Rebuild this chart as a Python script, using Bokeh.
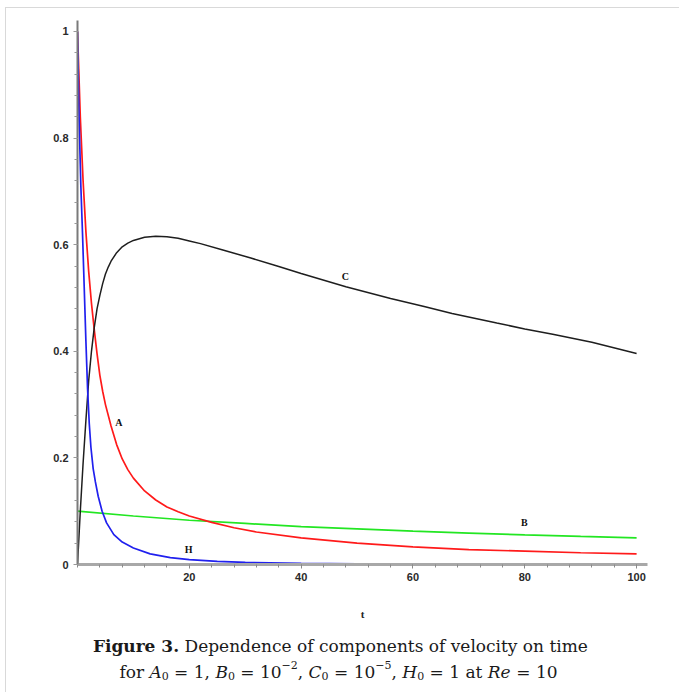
from bokeh.plotting import figure
from bokeh.layouts import column, row
from bokeh.models import Range1d, FixedTicker, Label, LinearAxis, Spacer
from bokeh.embed import file_html
from bokeh.resources import INLINE

# ---------------- data ----------------
t_A = [0, 0.5, 1, 1.5, 2, 2.5, 3, 3.5, 4, 4.5, 5, 6, 7, 8, 9, 10, 12, 14, 16, 18,
       20, 24, 28, 32, 40, 50, 60, 70, 80, 90, 100]
A = [1.0, 0.84, 0.72, 0.625, 0.55, 0.49, 0.44, 0.395, 0.355, 0.325, 0.3, 0.26,
     0.225, 0.198, 0.178, 0.162, 0.138, 0.121, 0.108, 0.099, 0.091, 0.079, 0.069,
     0.061, 0.05, 0.04, 0.033, 0.028, 0.025, 0.022, 0.020]

t_B = [0, 10, 20, 30, 40, 50, 60, 70, 80, 90, 100]
B = [0.1, 0.091, 0.083, 0.077, 0.071, 0.067, 0.0625, 0.059, 0.0556, 0.0526, 0.05]

t_C = [0, 0.5, 1, 1.5, 2, 2.5, 3, 3.5, 4, 4.5, 5, 5.5, 6, 7, 8, 9, 10, 12, 14, 16,
       18, 20, 22, 26, 31, 36, 40, 48, 56, 62, 67, 75, 80, 85, 92, 100]
C = [0, 0.1, 0.19, 0.27, 0.345, 0.40, 0.445, 0.48, 0.505, 0.527, 0.545, 0.558,
     0.569, 0.585, 0.596, 0.603, 0.608, 0.614, 0.616, 0.615, 0.612, 0.607, 0.602,
     0.59, 0.575, 0.559, 0.546, 0.521, 0.499, 0.484, 0.471, 0.453, 0.442, 0.432,
     0.417, 0.396]

t_H = [0, 0.3, 0.6, 0.9, 1.2, 1.5, 1.8, 2.1, 2.4, 2.8, 3.2, 3.7, 4.4, 5.2, 6.5, 8,
       10, 13, 16.6, 20, 25, 30, 40, 50, 60, 100]
H = [1.0, 0.83, 0.71, 0.62, 0.52, 0.42, 0.33, 0.265, 0.22, 0.18, 0.155, 0.128, 0.1,
     0.078, 0.056, 0.042, 0.031, 0.02, 0.013, 0.009, 0.006, 0.004, 0.002, 0.001,
     0.0005, 0.0]

curve_names = ["A", "B", "C", "H"]
curve_label_t = [7.4, 79.9, 47.9, 19.9]
curve_label_v = [0.267, 0.078, 0.540, 0.029]

x_ticks = [20, 40, 60, 80, 100]
x_labels = ["20", "40", "60", "80", "100"]
y_ticks = [0, 0.2, 0.4, 0.6, 0.8, 1.0]
y_labels = ["0", "0.2", "0.4", "0.6", "0.8", "1"]

x_title = "t"
caption_bold = "Figure 3."
caption_line1 = " Dependence of components of velocity on time"
# (text, style) pieces of caption line 2
caption_line2 = [("for ", "r"), ("A", "i"), ("0", "sub"), (" = 1, ", "r"),
                 ("B", "i"), ("0", "sub"), (" = 10", "r"), ("\u22122", "sup"),
                 (", ", "r"), ("C", "i"), ("0", "sub"), (" = 10", "r"),
                 ("\u22125", "sup"), (", ", "r"), ("H", "i"), ("0", "sub"),
                 (" = 1 at ", "r"), ("Re", "i"), (" = 10", "r")]

# ---------------- chart ----------------
CW = 673
H1 = 620
BL, BR = 71, 32
p = figure(width=CW, height=H1, x_range=Range1d(0, 101.95),
           y_range=Range1d(0, 1.0206), output_backend="svg",
           toolbar_location=None, x_axis_type=None, y_axis_type=None,
           min_border_left=BL, min_border_right=BR, min_border_top=12,
           min_border_bottom=64)
p.outline_line_color = None
p.background_fill_color = "white"
p.border_fill_color = "white"

tick_font = "Liberation Sans"

xaxis = LinearAxis()
xaxis.ticker = FixedTicker(ticks=x_ticks, minor_ticks=list(range(0, 101, 4)))
xaxis.major_label_overrides = dict(zip(x_ticks, x_labels))
xaxis.axis_line_color = "#a8a8a8"
xaxis.axis_line_width = 3
xaxis.major_tick_line_color = "#8a8a8a"
xaxis.minor_tick_line_color = "#8a8a8a"
xaxis.major_tick_in = 0
xaxis.major_tick_out = 4
xaxis.minor_tick_in = 0
xaxis.minor_tick_out = 3
xaxis.major_label_text_font = tick_font
xaxis.major_label_text_font_style = "bold"
xaxis.major_label_text_font_size = "11px"
xaxis.major_label_text_color = "#2a2a2a"
xaxis.major_label_standoff = 4
xaxis.axis_label = x_title
xaxis.axis_label_text_font = "Liberation Serif"
xaxis.axis_label_text_font_style = "bold"
xaxis.axis_label_text_font_size = "11px"
xaxis.axis_label_text_color = "#222222"
xaxis.axis_label_standoff = 24
p.add_layout(xaxis, "below")

yaxis = LinearAxis()
yaxis.ticker = FixedTicker(ticks=y_ticks, minor_ticks=[k * 0.04 for k in range(26)])
yaxis.major_label_overrides = dict(zip(y_ticks, y_labels))
yaxis.axis_line_color = "#7a7a7a"
yaxis.axis_line_width = 2
yaxis.major_tick_line_color = "#999999"
yaxis.minor_tick_line_color = "#999999"
yaxis.major_tick_in = 0
yaxis.major_tick_out = 4
yaxis.minor_tick_in = 0
yaxis.minor_tick_out = 3
yaxis.major_label_text_font = tick_font
yaxis.major_label_text_font_style = "bold"
yaxis.major_label_text_font_size = "11px"
yaxis.major_label_text_color = "#2a2a2a"
yaxis.major_label_standoff = 5
p.add_layout(yaxis, "left")

p.line(t_B, B, line_color="#22e622", line_width=1.7)
p.line(t_A, A, line_color="#ff1a1a", line_width=1.7)
p.line(t_C, C, line_color="#1e1e1e", line_width=1.5)
p.line(t_H, H, line_color="#2020ee", line_width=1.7)

for name, tx, vy in zip(curve_names, curve_label_t, curve_label_v):
    p.add_layout(Label(x=tx, y=vy, text=name, text_font="Liberation Serif",
                       text_font_style="bold", text_font_size="10px",
                       text_color="#111111", text_align="center",
                       text_baseline="middle"))

# ---------------- caption (separate strip below the chart) ----------------
H2 = 64
# same side borders as the chart (the column aligns the frames); x data = strip pixels
cap = figure(width=CW, height=H2, x_range=Range1d(BL, CW - BR), y_range=Range1d(0, H2),
             output_backend="svg", toolbar_location=None, x_axis_type=None,
             y_axis_type=None, min_border_left=BL, min_border_right=BR,
             min_border_top=0, min_border_bottom=0)
cap.outline_line_color = None
cap.background_fill_color = "white"
cap.border_fill_color = "white"

SERIF = "DejaVu Serif"
REG = {" ": .318, ",": .318, ".": .318, "=": .838, "\u2212": .838, "a": .596,
       "c": .563, "d": .642, "e": .592, "f": .370, "i": .320, "l": .320, "m": .948,
       "n": .644, "o": .602, "p": .642, "r": .478, "s": .513, "t": .402, "v": .579,
       "y": .579, "D": .831}
for dgt in "0123456789":
    REG[dgt] = .636
ITA = {"A": .722, "B": .735, "C": .765, "H": .872, "R": .770, "e": .592}
BOLD = {"F": .774, "i": .42, "g": .716, "u": .763, "r": .593, "e": .678, " ": .348,
        "3": .696, ".": .380}


def width(s, table, size):
    return sum(table.get(ch, 0.6) for ch in s) * size


FS = 17
SUBFS = 11
cap_cx = 332      # caption centre (strip pixels)
line1_base = 47   # baselines, measured up from the strip bottom
line2_base = 21


def put(x, y, txt, style, size, align="left"):
    # leading spaces are not drawn by SVG text: skip them by moving the anchor
    lead = len(txt) - len(txt.lstrip(" "))
    if align == "left":
        x += lead * REG[" "] * size
    cap.add_layout(Label(x=x, y=y, text=txt.strip(" "), text_font=SERIF,
                         text_font_style=style, text_font_size=f"{size}px",
                         text_color="#1a1a1a", text_align=align,
                         text_baseline="alphabetic"))


bw = width(caption_bold, BOLD, FS)
rw = width(caption_line1, REG, FS)
anchor = cap_cx - (bw + rw) / 2 + bw
put(anchor, line1_base, caption_bold, "bold", FS, align="right")
put(anchor, line1_base, caption_line1, "normal", FS)

specs = []
for txt, st in caption_line2:
    if st == "r":
        specs.append((txt, "normal", FS, 0, width(txt, REG, FS)))
    elif st == "i":
        specs.append((txt, "italic", FS, 0, width(txt, ITA, FS)))
    elif st == "sub":
        specs.append((txt, "normal", SUBFS, -4, width(txt, REG, SUBFS)))
    else:
        specs.append((txt, "normal", SUBFS, 7, width(txt, REG, SUBFS)))
total = sum(s[4] for s in specs)
xpos = cap_cx - total / 2
for txt, style, size, dy, w in specs:
    put(xpos, line2_base + dy, txt, style, size)
    xpos += w

# ---------------- thin grey frame round the picture (top and left) ----------------
grey = {"background-color": "#d9d9d9"}
top_line = row(Spacer(width=5, height=1), Spacer(width=674, height=1, styles=grey))
body = row(Spacer(width=5, height=H1 + H2), Spacer(width=1, height=H1 + H2, styles=grey),
           column(p, cap))
layout = column(Spacer(width=679, height=7), top_line, body)

open("out.html", "w").write(file_html(layout, INLINE))
